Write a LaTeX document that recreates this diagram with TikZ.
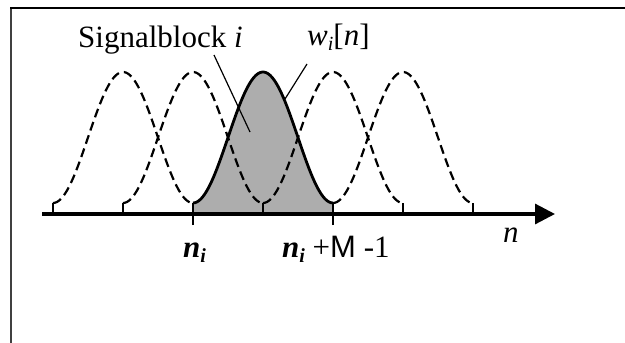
\documentclass[tikz,border=0pt]{standalone}
\usepackage{fontspec}
\setmainfont{Liberation Serif}
\newfontfamily\sansM{Liberation Sans}
\usetikzlibrary{arrows.meta}
\newcommand{\subi}{\raisebox{-5pt}{\fontsize{20}{20}\selectfont\textit{i}}}
\newcommand{\subbi}{\raisebox{-5pt}{\fontsize{20}{20}\selectfont\textbf{\textit{i}}}}
\begin{document}
\begin{tikzpicture}[x=1pt,y=-1pt,
  win/.style={line width=2.2pt, dash pattern=on 9pt off 5pt},
  winsolid/.style={line width=2.8pt},
  foot/.style={line width=1.8pt},
  lbl/.style={inner sep=0pt, anchor=base west, font=\fontsize{31}{36}\selectfont},
  pointer/.style={line width=1.2pt},
  shade/.style={fill=black!32}]
\useasboundingbox (0,0) rectangle (625,343);
% frame
\draw[line width=1.5pt, black!75] (11,8) -- (11,343);
\draw[line width=1.5pt] (10.25,8) -- (625,8);
% shaded window
\fill[shade] (193,214) -- (193,203)
  -- plot[domain=0:140, samples=70] ({193+\x},{203-65.5*(1-cos(\x*2.5714286))})
  -- (333,214) -- cycle;
% dashed windows
\foreach \s in {53,123,263,333}{
  \draw[win] plot[domain=0:140, samples=70] ({\s+\x},{203-65.5*(1-cos(\x*2.5714286))});
}
% solid window
\draw[winsolid] plot[domain=0:140, samples=70] ({193+\x},{203-65.5*(1-cos(\x*2.5714286))});
% feet
\foreach \s in {53,123,263,403,473}{
  \draw[foot] (\s,214) -- (\s,203);
}
\draw[foot] (193,225) -- (193,203);
\draw[foot] (333,225) -- (333,203);
% axis
\coordinate (a0) at (42,214);
\coordinate (a1) at (555,214);
\draw[line width=3.2pt, -{Triangle[length=20pt,width=20pt]}] (a0) -- (a1);
% labels
\node[lbl] (sb) at (78,47) {Signalblock \textit{i}};
\node[lbl] (w) at (307,45) {\textit{w}\subi[\textit{n}]};
\node[lbl] (ni) at (183,257) {\textbf{\textit{n}}\subbi};
\node[lbl] (nm) at (282,257) {\textbf{\textit{n}}\subbi\ +{\sansM M} -1};
\node[lbl] (n) at (503,242) {\textit{n}};
% pointers
\coordinate (sbp) at (214,55);
\coordinate (sbe) at (250,132);
\coordinate (wp) at (307,64);
\coordinate (we) at (285,99);
\draw[pointer] (sbp) -- (sbe);
\draw[pointer] (wp) -- (we);
\end{tikzpicture}
\end{document}
